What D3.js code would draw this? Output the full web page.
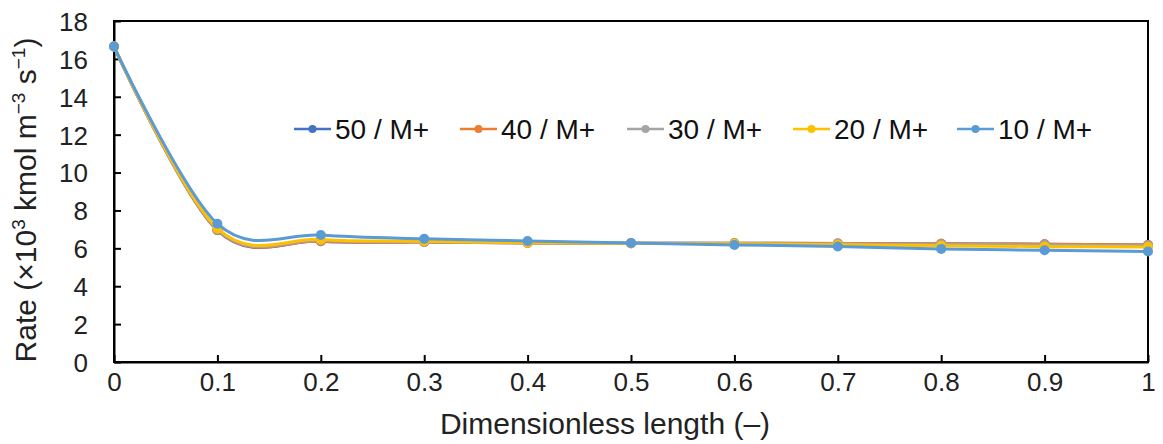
<!DOCTYPE html>
<html><head><meta charset="utf-8">
<script src="https://cdn.jsdelivr.net/npm/d3@7"></script>
<style>body{margin:0;background:#fff}text{font-family:"Liberation Sans",Arial,sans-serif}</style>
</head><body><svg id="c" width="1163" height="444"></svg>
<script>
const xValues = [0,0.1,0.2,0.3,0.4,0.5,0.6,0.7,0.8,0.9,1];
const seriesNames = ["50 / M+","40 / M+","30 / M+","20 / M+","10 / M+"];
const s50 = [16.65,6.95,6.38,6.33,6.28,6.27,6.27,6.25,6.24,6.22,6.18];
const s40 = [16.65,6.97,6.38,6.33,6.28,6.27,6.27,6.25,6.24,6.22,6.18];
const s30 = [16.65,7.00,6.42,6.35,6.29,6.27,6.26,6.23,6.20,6.17,6.13];
const s20 = [16.65,7.05,6.47,6.37,6.30,6.27,6.24,6.19,6.14,6.09,6.07];
const s10 = [16.65,7.30,6.70,6.50,6.39,6.28,6.18,6.10,5.97,5.90,5.83];
const colors = ["#4472C4","#ED7D31","#A5A5A5","#FFC000","#5B9BD5"];
const yTicks = [0,2,4,6,8,10,12,14,16,18];
const xTicks = [0,0.1,0.2,0.3,0.4,0.5,0.6,0.7,0.8,0.9,1];
const allSeries = [s50,s40,s30,s20,s10];

const svg = d3.select("#c");
const L=114,R=1148,T=21,B=362;
const x = d3.scaleLinear().domain([0,1]).range([L,R]);
const y = d3.scaleLinear().domain([0,18]).range([B,T]);

svg.append("rect").attr("x",L).attr("y",T).attr("width",R-L).attr("height",B-T)
  .attr("fill","none").attr("stroke","#000").attr("stroke-width",2);

const yAxis = d3.axisLeft(y).tickValues(yTicks).tickSizeInner(-7).tickSizeOuter(0).tickPadding(26)
  .tickFormat(d3.format("d"));
const gy = svg.append("g").attr("transform",`translate(${L},0)`).call(yAxis);
gy.select(".domain").attr("stroke-width",2);
gy.selectAll(".tick line").attr("stroke-width",2);
gy.selectAll("text").attr("font-size",26).attr("fill","#222").attr("dy","0.36em");

const xAxis = d3.axisBottom(x).tickValues(xTicks).tickSizeInner(-7).tickSizeOuter(0).tickPadding(11)
  .tickFormat(d=> d===0?"0":d===1?"1":d3.format(".1f")(d));
const gx = svg.append("g").attr("transform",`translate(0,${B})`).call(xAxis);
gx.select(".domain").attr("stroke-width",2);
gx.selectAll(".tick line").attr("stroke-width",2);
gx.selectAll("text").attr("font-size",26).attr("fill","#222");

svg.append("text").attr("x",605).attr("y",434).attr("text-anchor","middle")
  .attr("font-size",30).attr("fill","#222").text("Dimensionless length (–)");
svg.append("text").attr("transform","translate(36,200) rotate(-90)").attr("text-anchor","middle")
  .attr("font-size",30).attr("fill","#222")
  .html('Rate (×10<tspan dy="-11" font-size="19">3</tspan><tspan dy="11"> kmol m</tspan><tspan dy="-11" font-size="19">−3</tspan><tspan dy="11"> s</tspan><tspan dy="-11" font-size="19">−1</tspan><tspan dy="11">)</tspan>');

const line = d3.line().x((d,i)=>x(xValues[i])).y(d=>y(d)).curve(d3.curveCardinal.tension(0));
allSeries.forEach((s,k)=>{
  const g = svg.append("g");
  g.append("path").attr("d",line(s)).attr("fill","none").attr("stroke",colors[k]).attr("stroke-width",3);
  g.selectAll("circle").data(s).join("circle").attr("cx",(d,i)=>x(xValues[i])).attr("cy",d=>y(d))
    .attr("r",5).attr("fill",colors[k]);
});

const legX = [294,460,627,793,957];
seriesNames.forEach((n,k)=>{
  const g = svg.append("g").attr("transform",`translate(${legX[k]},129)`);
  g.append("line").attr("x1",0).attr("x2",37).attr("stroke",colors[k]).attr("stroke-width",2.5);
  g.append("circle").attr("cx",18.5).attr("r",4).attr("fill",colors[k]);
  g.append("text").attr("x",41).attr("y",10).attr("font-size",28).attr("fill","#111").text(n);
});
</script></body></html>
